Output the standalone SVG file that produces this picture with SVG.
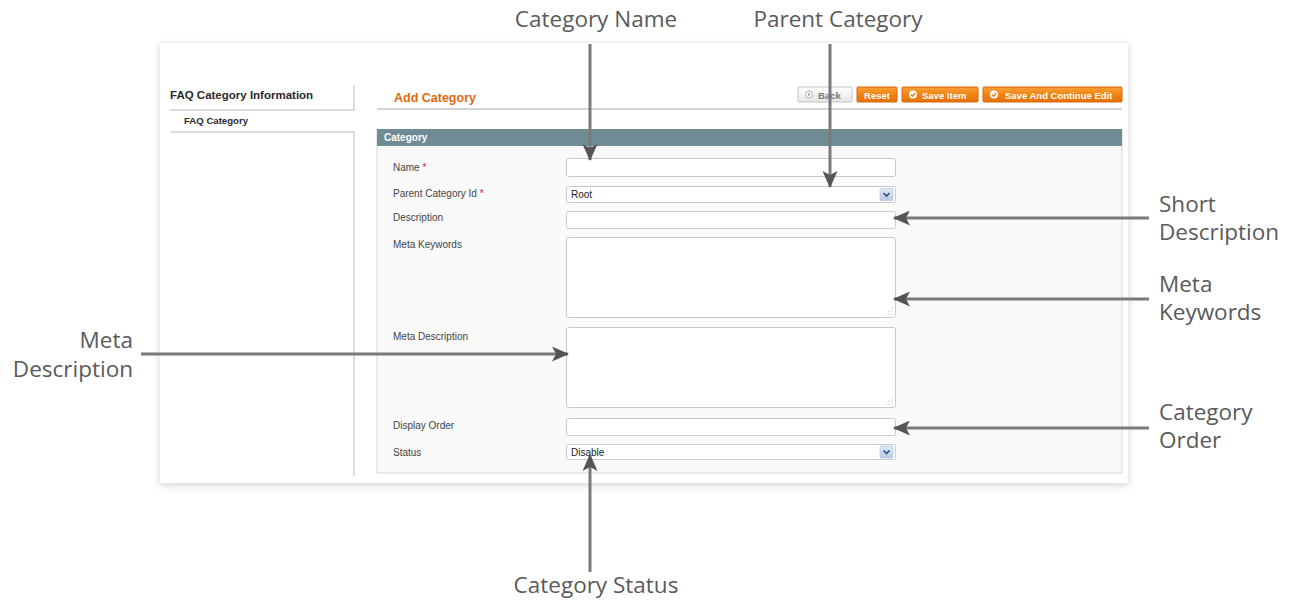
<svg xmlns="http://www.w3.org/2000/svg" width="1298" height="608" viewBox="0 0 1298 608">
<defs>
<filter id="shadow" x="-5%" y="-5%" width="110%" height="115%">
<feGaussianBlur in="SourceAlpha" stdDeviation="4"/>
<feOffset dx="0" dy="2"/>
<feComponentTransfer><feFuncA type="linear" slope="0.18"/></feComponentTransfer>
<feMerge><feMergeNode/><feMergeNode in="SourceGraphic"/></feMerge>
</filter>
<linearGradient id="orange" x1="0" y1="0" x2="0" y2="1">
<stop offset="0" stop-color="#f8a13a"/>
<stop offset="0.5" stop-color="#f28411"/>
<stop offset="1" stop-color="#e4700a"/>
</linearGradient>
<linearGradient id="grayBtn" x1="0" y1="0" x2="0" y2="1">
<stop offset="0" stop-color="#ffffff"/>
<stop offset="1" stop-color="#e6e6e6"/>
</linearGradient>
<linearGradient id="selBtn" x1="0" y1="0" x2="0" y2="1">
<stop offset="0" stop-color="#dfe8f5"/>
<stop offset="1" stop-color="#b9cbe6"/>
</linearGradient>
<marker id="arr" markerUnits="userSpaceOnUse" markerWidth="17" markerHeight="15" refX="16" refY="7.5" orient="auto">
<path d="M0,0 L17,7.5 L0,15 L4,7.5 Z" fill="#555"/>
</marker>
<g id="grip">
<circle cx="0" cy="0" r="0.6" fill="#aaa"/>
<circle cx="-3" cy="0" r="0.6" fill="#aaa"/>
<circle cx="0" cy="-3" r="0.6" fill="#aaa"/>
<circle cx="-6" cy="0" r="0.6" fill="#aaa"/>
<circle cx="-3" cy="-3" r="0.6" fill="#aaa"/>
<circle cx="0" cy="-6" r="0.6" fill="#aaa"/>
</g>
<g id="selarrow">
<rect x="0" y="0" width="13" height="12" rx="1" fill="url(#selBtn)" stroke="#a9bcd9" stroke-width="0.6"/>
<path d="M3.5,4.5 L6.5,7.5 L9.5,4.5" fill="none" stroke="#2f4f86" stroke-width="1.6"/>
</g>
</defs>
<style>
.ann{font-family:"Open Sans","Noto Sans",sans-serif;font-size:22.5px;fill:#5a5a5a}
.lbl{font-family:"Liberation Sans",Arial,sans-serif;font-size:10px;fill:#444}
.req{fill:#e02020}
.inp{fill:#fff;stroke:#c9c9c9;stroke-width:1}
.btn{fill:url(#orange);stroke:#d7680a;stroke-width:1}
.btxt{font-family:"Liberation Sans",Arial,sans-serif;font-size:9.5px;font-weight:bold;fill:#fff}
.sep{stroke:#d0d0d0;stroke-width:1.5;fill:none}
.conn{stroke:#7a7a7a;stroke-width:3;fill:none;marker-end:url(#arr)}
.val{font-family:"Liberation Sans",Arial,sans-serif;font-size:10px;fill:#222}
</style>
<rect width="1298" height="608" fill="#fff"/>

<g id="screenshot">
<rect x="160" y="43" width="968" height="440" fill="#fff" filter="url(#shadow)"/>

<g id="sidebar">
<text x="170" y="99" font-family="Liberation Sans, Arial, sans-serif" font-size="11.5" font-weight="bold" fill="#2a2a2a">FAQ Category Information</text>
<line class="sep" x1="354" y1="86" x2="354" y2="110"/>
<line class="sep" x1="170" y1="110" x2="355" y2="110"/>
<text x="184" y="124" font-family="Liberation Sans, Arial, sans-serif" font-size="9.6" font-weight="bold" fill="#2a2a2a">FAQ Category</text>
<line class="sep" x1="170" y1="132" x2="355" y2="132"/>
<line class="sep" x1="354" y1="132" x2="354" y2="476"/>
</g>

<g id="header">
<text x="394" y="102" font-family="Liberation Sans, Arial, sans-serif" font-size="12.5" font-weight="bold" fill="#e0690f">Add Category</text>
<line x1="377" y1="109" x2="1122" y2="109" stroke="#d4d4d4" stroke-width="2"/>
</g>

<g id="buttons">
<g id="btn-back">
<rect x="798" y="87" width="54" height="15" rx="1" fill="url(#grayBtn)" stroke="#c4c4c4"/>
<circle cx="809" cy="94.5" r="3.5" fill="#fff" stroke="#999" stroke-width="0.8"/>
<circle cx="809" cy="94.5" r="1.2" fill="#999"/>
<text x="818" y="98.5" font-family="Liberation Sans, Arial, sans-serif" font-size="9.5" font-weight="bold" fill="#777">Back</text>
</g>
<g id="btn-reset">
<rect class="btn" x="857" y="87" width="40" height="15" rx="1"/>
<text class="btxt" x="877" y="98.5" text-anchor="middle">Reset</text>
</g>
<g id="btn-save">
<rect class="btn" x="902" y="87" width="76" height="15" rx="1"/>
<circle cx="913" cy="94.5" r="4" fill="#fff"/>
<path d="M910.8,94.6 L912.5,96.3 L915.3,92.8" fill="none" stroke="#e4700a" stroke-width="1.3"/>
<text class="btxt" x="922" y="98.5">Save Item</text>
</g>
<g id="btn-save-continue">
<rect class="btn" x="983" y="87" width="139" height="15" rx="1"/>
<circle cx="994" cy="94.5" r="4" fill="#fff"/>
<path d="M991.8,94.6 L993.5,96.3 L996.3,92.8" fill="none" stroke="#e4700a" stroke-width="1.3"/>
<text class="btxt" x="1005" y="98.5">Save And Continue Edit</text>
</g>
</g>

<g id="fieldset">
<rect x="377" y="130" width="745" height="343" fill="#fafafa" stroke="#d6d6d6" stroke-width="1"/>
<rect x="377" y="129" width="745" height="17" fill="#6f8b93"/>
<text x="384" y="141" font-family="Liberation Sans, Arial, sans-serif" font-size="10" font-weight="bold" fill="#fff">Category</text>
</g>

<g id="field-name">
<text class="lbl" x="393" y="171">Name <tspan class="req">*</tspan></text>
<rect class="inp" x="566.5" y="158.5" width="329" height="18" rx="2"/>
</g>
<g id="field-parent">
<text class="lbl" x="393" y="197">Parent Category Id <tspan class="req">*</tspan></text>
<rect class="inp" x="566.5" y="186.5" width="329" height="16" rx="2"/>
<text class="val" x="571" y="198">Root</text>
<use href="#selarrow" x="880" y="188.5"/>
</g>
<g id="field-description">
<text class="lbl" x="393" y="221">Description</text>
<rect class="inp" x="566.5" y="211.5" width="329" height="17" rx="2"/>
</g>
<g id="field-meta-keywords">
<text class="lbl" x="393" y="248">Meta Keywords</text>
<rect class="inp" x="566.5" y="237.5" width="329" height="80" rx="2"/>
<use href="#grip" x="892" y="314"/>
</g>
<g id="field-meta-description">
<text class="lbl" x="393" y="340">Meta Description</text>
<rect class="inp" x="566.5" y="327.5" width="329" height="80" rx="2"/>
<use href="#grip" x="892" y="404"/>
</g>
<g id="field-display-order">
<text class="lbl" x="393" y="429">Display Order</text>
<rect class="inp" x="566.5" y="418.5" width="329" height="17" rx="2"/>
</g>
<g id="field-status">
<text class="lbl" x="393" y="456">Status</text>
<rect class="inp" x="566.5" y="444.5" width="329" height="15" rx="2"/>
<text class="val" x="571" y="456">Disable</text>
<use href="#selarrow" x="880" y="446"/>
</g>
</g>

<g id="annotations">
<g id="ann-category-name"><text class="ann" x="596" y="27" text-anchor="middle">Category Name</text></g>
<g id="ann-parent-category"><text class="ann" x="838" y="27" text-anchor="middle">Parent Category</text></g>
<g id="ann-short-description"><text class="ann" x="1159" y="212">Short</text><text class="ann" x="1159" y="240">Description</text></g>
<g id="ann-meta-keywords"><text class="ann" x="1159" y="292">Meta</text><text class="ann" x="1159" y="320">Keywords</text></g>
<g id="ann-category-order"><text class="ann" x="1159" y="420">Category</text><text class="ann" x="1159" y="448">Order</text></g>
<g id="ann-meta-description"><text class="ann" x="133" y="348" text-anchor="end">Meta</text><text class="ann" x="133" y="377" text-anchor="end">Description</text></g>
<g id="ann-category-status"><text class="ann" x="596" y="593" text-anchor="middle">Category Status</text></g>
</g>

<g id="connectors">
<line class="conn" x1="590" y1="44" x2="590" y2="160"/>
<line class="conn" x1="830" y1="44" x2="830" y2="187"/>
<line class="conn" x1="1149" y1="218" x2="894" y2="218"/>
<line class="conn" x1="1149" y1="299" x2="894" y2="299"/>
<line class="conn" x1="1149" y1="428" x2="894" y2="428"/>
<line class="conn" x1="141" y1="354" x2="568" y2="354"/>
<line class="conn" x1="590" y1="572" x2="590" y2="455"/>
</g>
</svg>
